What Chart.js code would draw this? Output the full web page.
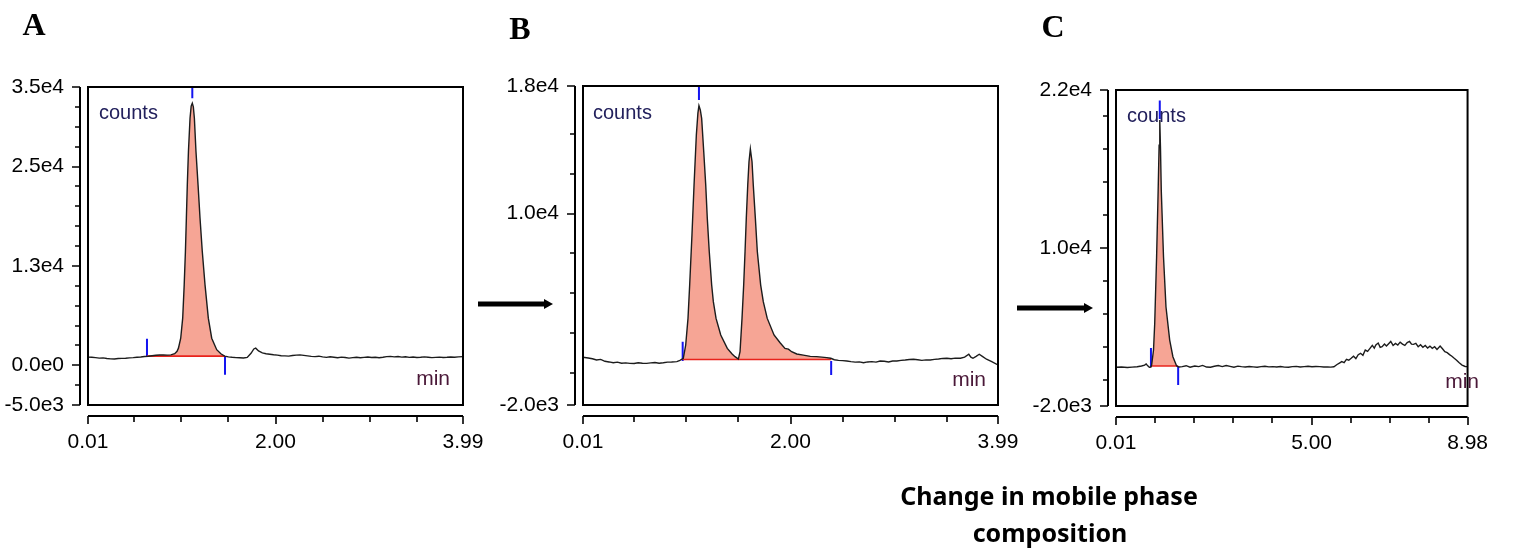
<!DOCTYPE html>
<html><head><meta charset="utf-8">
<script src="https://cdn.jsdelivr.net/npm/chart.js@4.4.1/dist/chart.umd.min.js"></script>
<style>
html,body{margin:0;padding:0;background:#fff;}
body{width:1513px;height:553px;position:relative;overflow:hidden;}
canvas{position:absolute;left:0;top:0;}
.t{position:absolute;line-height:1;white-space:nowrap;}
.ttl{font-family:"Liberation Serif","Times New Roman",serif;font-weight:bold;font-size:32px;color:#000;transform:translate(-50%,-50%);}
.cnt{font-family:"Liberation Sans",Arial,sans-serif;font-size:20px;color:#22205c;transform:translate(0,-50%);}
.min{font-family:"Liberation Sans",Arial,sans-serif;font-size:21px;color:#4a1838;transform:translate(-100%,-50%);}
.cap{font-family:"Noto Sans","Open Sans",sans-serif;font-weight:bold;font-size:25px;color:#000;transform:translate(-50%,-50%);}
svg{position:absolute;left:0;top:0;}
</style></head><body>
<canvas id="cA" width="1513" height="553" style="width:1513px;height:553px"></canvas>
<canvas id="cB" width="1513" height="553" style="width:1513px;height:553px"></canvas>
<canvas id="cC" width="1513" height="553" style="width:1513px;height:553px"></canvas>

<div class="t ttl" style="left:34px;top:24px">A</div>
<div class="t ttl" style="left:520px;top:28px">B</div>
<div class="t ttl" style="left:1053px;top:26px">C</div>

<div class="t cnt" style="left:99px;top:112px">counts</div>
<div class="t cnt" style="left:593px;top:112px">counts</div>
<div class="t cnt" style="left:1127px;top:115px">counts</div>
<div class="t min" style="left:450px;top:377px">min</div>
<div class="t min" style="left:986px;top:378px">min</div>
<div class="t min" style="left:1479px;top:380px">min</div>

<div class="t cap" style="left:1049px;top:495px">Change in mobile phase</div>
<div class="t cap" style="left:1050px;top:532px">composition</div>

<svg width="1513" height="553">
  <line x1="478" y1="304" x2="546" y2="304" stroke="#000" stroke-width="5"/>
  <polygon points="544,299 553,304 544,309" fill="#000"/>
  <line x1="1017" y1="308" x2="1086" y2="308" stroke="#000" stroke-width="5"/>
  <polygon points="1084,303 1093,308 1084,313" fill="#000"/>
</svg>

<script>
const FONT = '"Liberation Sans",Arial,sans-serif';

// ---------- Panel A ----------
const timeA = [0.01,0.05,0.09,0.13,0.17,0.21,0.25,0.29,0.33,0.37,0.41,0.45,0.49,0.53,0.57,0.61,0.65,0.69,0.73,0.77,0.81,0.85,0.89,0.93,0.955,0.97,0.994,1.015,1.031,1.044,1.054,1.064,1.076,1.093,1.105,1.117,1.128,1.139,1.156,1.178,1.199,1.223,1.252,1.287,1.323,1.376,1.42,1.46,1.50,1.54,1.58,1.62,1.66,1.70,1.74,1.77,1.79,1.82,1.86,1.90,1.94,1.98,2.02,2.06,2.10,2.14,2.18,2.22,2.26,2.30,2.34,2.38,2.42,2.46,2.50,2.54,2.58,2.62,2.66,2.70,2.74,2.78,2.82,2.86,2.90,2.94,2.98,3.02,3.06,3.10,3.14,3.18,3.22,3.26,3.30,3.34,3.38,3.42,3.46,3.50,3.54,3.58,3.62,3.66,3.70,3.74,3.78,3.82,3.86,3.90,3.94,3.99];
const countsA = [1020,1000,960,900,930,850,800,780,840,870,880,930,960,1010,1040,1100,1130,1200,1260,1280,1290,1270,1300,1450,1750,2150,3400,5920,10110,14300,18500,22690,26880,31080,32600,32970,32500,31080,26880,22690,18500,14300,10110,5920,3400,1960,1450,1150,1060,1000,960,940,920,980,1500,2050,2150,1800,1550,1450,1380,1320,1280,1200,1180,1150,1230,1280,1300,1240,1180,1120,1080,1140,1050,990,1060,1010,950,1020,980,900,960,1000,940,990,1040,970,1010,950,1000,1080,1120,1060,1100,1020,1060,990,1030,970,1000,1050,1000,960,990,1020,980,1000,1040,1010,1050,1080];
const xTicksA = [0.01,2.00,3.99];
const xLabelsA = ['0.01','2.00','3.99'];
const xMinorA = [0.5,1.0,1.5,2.5,3.0,3.5];
const yTicksA = [-5000,0,12500,25000,35000];
const yLabelsA = ['-5.0e3','0.0e0','1.3e4','2.5e4','3.5e4'];
const yMinorA = [-2500,2500,5000,7500,10000,15000,17500,20000,22500,27500,30000,32500];
const peakA = {start:0.636, end:1.464, base:1150};
const markersA = [[1.117,35000,33600],[0.636,3320,1060],[1.464,1060,-1210]];

// ---------- Panel B ----------
const timeB = [0.01,0.06,0.10,0.14,0.18,0.22,0.26,0.30,0.34,0.38,0.42,0.46,0.50,0.54,0.58,0.62,0.66,0.70,0.74,0.78,0.82,0.86,0.91,0.94,0.956,0.972,0.995,1.017,1.033,1.055,1.075,1.097,1.112,1.122,1.135,1.148,1.168,1.187,1.202,1.221,1.244,1.260,1.286,1.331,1.394,1.440,1.468,1.500,1.516,1.535,1.551,1.564,1.576,1.590,1.602,1.615,1.631,1.643,1.663,1.682,1.714,1.739,1.777,1.842,1.90,1.947,1.98,2.011,2.06,2.123,2.19,2.251,2.30,2.347,2.386,2.42,2.46,2.50,2.54,2.58,2.62,2.66,2.70,2.74,2.78,2.82,2.86,2.90,2.94,2.98,3.02,3.06,3.10,3.14,3.18,3.22,3.26,3.30,3.34,3.38,3.42,3.46,3.50,3.54,3.58,3.63,3.67,3.71,3.73,3.75,3.78,3.81,3.84,3.88,3.93,3.99];
const countsB = [990,950,900,820,860,740,700,650,690,620,640,610,600,650,620,610,640,660,620,650,690,700,720,800,870,930,1760,3430,5520,8660,11790,14930,16300,16765,16500,15970,13880,11790,9700,7610,5520,4480,3430,2390,1550,1200,1030,880,1340,3430,5520,7610,9700,11790,13250,14050,13250,11790,9700,7610,5520,4480,3430,2390,1900,1550,1500,1340,1200,1130,1050,1030,1000,970,930,840,800,780,760,720,690,700,650,700,720,690,760,740,700,760,760,800,820,850,870,840,800,830,820,860,880,920,930,900,940,930,1000,1180,1000,930,1050,1180,1050,870,720,510];
const xTicksB = [0.01,2.00,3.99];
const xLabelsB = ['0.01','2.00','3.99'];
const xMinorB = [0.5,1.0,1.5,2.5,3.0,3.5];
const yTicksB = [-2000,10000,18000];
const yLabelsB = ['-2.0e3','1.0e4','1.8e4'];
const yMinorB = [0,2500,5000,7500,12500,15000];
const peakB = {start:0.966, end:2.39, base:850};
const markersB = [[1.122,18000,17120],[0.966,1970,760],[2.39,760,-120]];

// ---------- Panel C ----------
const timeC = [0.01,0.15,0.30,0.42,0.55,0.66,0.74,0.78,0.82,0.86,0.90,0.919,0.967,0.998,1.046,1.086,1.11,1.127,1.145,1.165,1.222,1.285,1.380,1.462,1.557,1.62,1.70,1.80,1.90,2.02,2.12,2.22,2.32,2.42,2.52,2.62,2.72,2.82,2.92,3.02,3.12,3.21,3.31,3.41,3.51,3.61,3.71,3.81,3.91,4.01,4.11,4.21,4.31,4.41,4.51,4.61,4.71,4.81,4.91,5.01,5.11,5.21,5.31,5.41,5.49,5.57,5.65,5.72,5.77,5.83,5.89,5.95,6.01,6.07,6.13,6.19,6.25,6.31,6.37,6.43,6.49,6.55,6.60,6.64,6.70,6.75,6.80,6.86,6.91,6.96,7.02,7.08,7.14,7.20,7.26,7.32,7.38,7.44,7.50,7.55,7.60,7.66,7.72,7.78,7.84,7.90,7.96,8.02,8.08,8.14,8.20,8.28,8.34,8.40,8.46,8.52,8.58,8.64,8.70,8.76,8.84,8.92,8.98];
const countsC = [940,960,920,950,980,1040,1100,1190,1050,940,960,1110,2250,4280,9340,14400,17800,19720,17600,14400,9340,5540,3010,1740,1040,960,990,1060,950,1040,990,1080,960,940,1020,1070,990,1070,1010,950,1030,990,960,1000,970,940,990,1020,970,990,960,1000,950,940,990,1010,960,990,1020,980,1000,990,960,970,950,980,1150,1280,1370,1300,1550,1480,1620,1780,1600,1900,2000,1850,2250,2150,2380,2600,2400,2630,2780,2450,2500,2700,2550,2710,2900,2600,2750,2630,2850,2700,2600,2810,2900,2700,2680,2750,2500,2650,2460,2600,2400,2550,2380,2500,2300,2560,2350,2120,2050,1900,1780,1620,1480,1300,1110,1000,990];
const xTicksC = [0.01,5.00,8.98];
const xLabelsC = ['0.01','5.00','8.98'];
const xMinorC = [1,2,3,4,6,7,8];
const yTicksC = [-2000,10000,22000];
const yLabelsC = ['-2.0e3','1.0e4','2.2e4'];
const yMinorC = [0,2500,5000,7500,12500,15000,17500,20000];
const peakC = {start:0.902, end:1.596, base:1040};
const markersC = [[1.127,21200,19800],[0.902,2400,960],[1.596,980,-405]];

const YW = 86;   // width reserved for the y scale (labels)
const XH = 50;   // height reserved for the x scale (labels)

const offsetAxes = {
  id: 'offsetAxes',
  afterDraw(chart) {
    const cfg = chart.options.plugins.offsetAxes;
    const {ctx, chartArea: a} = chart;
    const x = chart.scales.x, y = chart.scales.y;
    ctx.save();
    ctx.strokeStyle = '#000';
    ctx.lineWidth = 2;
    ctx.strokeRect(a.left, a.top, a.right - a.left, a.bottom - a.top);
    const ax = a.left - 8;
    const ay = a.bottom + 11;
    ctx.beginPath();
    ctx.moveTo(ax, a.top); ctx.lineTo(ax, a.bottom);
    ctx.moveTo(a.left, ay); ctx.lineTo(a.right, ay);
    ctx.stroke();
    ctx.lineWidth = 1.6;
    ctx.beginPath();
    cfg.yMajor.forEach(v => { const p = Math.round(y.getPixelForValue(v)); ctx.moveTo(ax - 8, p); ctx.lineTo(ax, p); });
    cfg.yMinor.forEach(v => { const p = Math.round(y.getPixelForValue(v)); ctx.moveTo(ax - 5, p); ctx.lineTo(ax, p); });
    cfg.xMajor.forEach(v => { const p = Math.round(x.getPixelForValue(v)); ctx.moveTo(p, ay); ctx.lineTo(p, ay + 8); });
    cfg.xMinor.forEach(v => { const p = Math.round(x.getPixelForValue(v)); ctx.moveTo(p, ay); ctx.lineTo(p, ay + 6); });
    ctx.stroke();
    ctx.restore();
  }
};

function makeChart(id, p) {
  const main = p.time.map((t, i) => ({x: t, y: p.counts[i]}));
  const fillPts = [{x: p.peak.start, y: p.peak.base}]
    .concat(main.filter(d => d.x > p.peak.start && d.x < p.peak.end))
    .concat([{x: p.peak.end, y: p.peak.base}]);
  const datasets = [
    {data: main, borderColor: '#1c1c1c', borderWidth: 1.4, pointRadius: 0, fill: false},
    {data: [{x: p.peak.start, y: p.peak.base}, {x: p.peak.end, y: p.peak.base}], borderColor: '#e8231c', borderWidth: 1.6, pointRadius: 0, fill: false}
  ];
  p.markers.forEach(m => datasets.push({data: [{x: m[0], y: m[1]}, {x: m[0], y: m[2]}], borderColor: '#1414f0', borderWidth: 2, pointRadius: 0, fill: false}));
  datasets.push({data: fillPts, borderWidth: 0, borderColor: 'rgba(0,0,0,0)', backgroundColor: '#f6a595', pointRadius: 0, fill: {value: p.peak.base}});

  new Chart(document.getElementById(id), {
    type: 'line',
    data: {datasets},
    plugins: [offsetAxes],
    options: {
      responsive: false,
      animation: false,
      events: [],
      layout: {autoPadding: false, padding: {left: p.L - YW, top: p.T, right: 1513 - p.R, bottom: 553 - XH - p.B}},
      elements: {line: {tension: 0}},
      plugins: {
        legend: {display: false},
        tooltip: {enabled: false},
        offsetAxes: {yMajor: p.yTicks, yMinor: p.yMinor, xMajor: p.xTicks, xMinor: p.xMinor}
      },
      scales: {
        x: {
          type: 'linear', min: p.xmin, max: p.xmax,
          grid: {display: false, drawTicks: false}, border: {display: false},
          afterBuildTicks: s => { s.ticks = p.xTicks.map(v => ({value: v})); },
          afterFit: s => { s.height = XH; },
          ticks: {autoSkip: false, maxRotation: 0, minRotation: 0, padding: 25, color: '#000',
            font: {family: FONT, size: 21},
            callback: (v, i) => p.xLabels[i]}
        },
        y: {
          type: 'linear', min: p.ymin, max: p.ymax,
          grid: {display: false, drawTicks: false}, border: {display: false},
          afterBuildTicks: s => { s.ticks = p.yTicks.map(v => ({value: v})); },
          afterFit: s => { s.width = YW; },
          ticks: {autoSkip: false, padding: 24, color: '#000',
            font: {family: FONT, size: 21},
            callback: (v, i) => p.yLabels[i]}
        }
      }
    }
  });
}

makeChart('cA', {time: timeA, counts: countsA, xTicks: xTicksA, xLabels: xLabelsA, xMinor: xMinorA,
  yTicks: yTicksA, yLabels: yLabelsA, yMinor: yMinorA, peak: peakA, markers: markersA,
  xmin: 0.01, xmax: 3.99, ymin: -5000, ymax: 35000, L: 88, T: 87, R: 463, B: 405});
makeChart('cB', {time: timeB, counts: countsB, xTicks: xTicksB, xLabels: xLabelsB, xMinor: xMinorB,
  yTicks: yTicksB, yLabels: yLabelsB, yMinor: yMinorB, peak: peakB, markers: markersB,
  xmin: 0.01, xmax: 3.99, ymin: -2000, ymax: 18000, L: 583, T: 86, R: 998, B: 405});
makeChart('cC', {time: timeC, counts: countsC, xTicks: xTicksC, xLabels: xLabelsC, xMinor: xMinorC,
  yTicks: yTicksC, yLabels: yLabelsC, yMinor: yMinorC, peak: peakC, markers: markersC,
  xmin: 0.01, xmax: 8.98, ymin: -2000, ymax: 22000, L: 1116, T: 90, R: 1491, B: 406});
</script>
</body></html>
